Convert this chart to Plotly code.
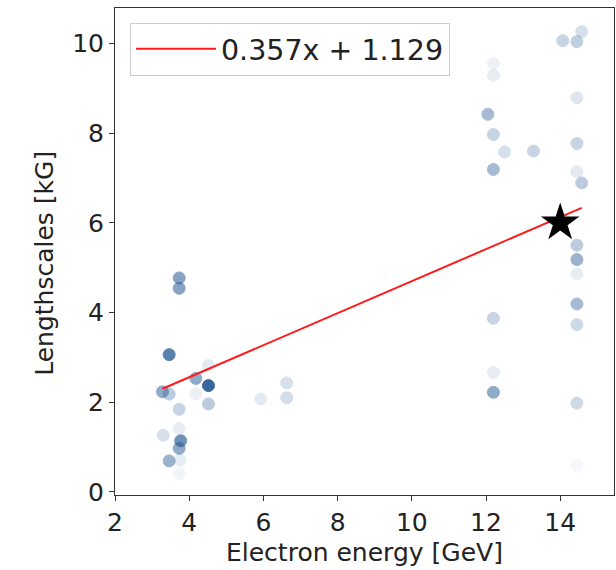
import plotly.graph_objects as go

# ---- data ----
energy = [3.73, 3.73, 3.46, 4.52, 4.18, 4.52, 3.28, 3.46, 4.18, 3.73, 4.52, 3.73,
          3.30, 3.77, 3.73, 3.46, 3.75, 3.73, 6.63, 6.63, 5.93,
          14.58, 14.07, 14.45, 12.20, 12.20, 14.45, 12.05, 12.20, 12.50, 13.28, 14.45,
          12.20, 14.45, 14.58, 14.45, 14.45, 14.45, 14.45, 14.45, 12.20, 12.20, 12.20,
          14.45, 14.45]
lengthscale = [4.77, 4.54, 3.06, 2.82, 2.53, 2.37, 2.23, 2.18, 2.19, 1.84, 1.96, 1.41,
               1.26, 1.14, 0.97, 0.69, 0.71, 0.41, 2.43, 2.10, 2.07,
               10.26, 10.06, 10.04, 9.55, 9.29, 8.79, 8.42, 7.97, 7.58, 7.60, 7.77,
               7.19, 7.14, 6.89, 5.50, 5.18, 4.86, 4.19, 3.73, 3.87, 2.66, 2.22,
               1.98, 0.60]
weight = [0.55, 0.55, 0.75, 0.12, 0.5, 0.9, 0.5, 0.3, 0.08, 0.25, 0.3, 0.1,
          0.18, 0.65, 0.5, 0.45, 0.1, 0.06, 0.18, 0.2, 0.12,
          0.18, 0.25, 0.28, 0.07, 0.1, 0.15, 0.4, 0.25, 0.18, 0.25, 0.25,
          0.4, 0.12, 0.3, 0.3, 0.45, 0.1, 0.4, 0.22, 0.25, 0.1, 0.5,
          0.22, 0.04]
fit_slope = 0.357
fit_intercept = 1.129
star_x = [14.0]
star_y = [6.0]
x_ticks = [2, 4, 6, 8, 10, 12, 14]
y_ticks = [0, 2, 4, 6, 8, 10]

FONT = "DejaVu Sans"
TXT = "#222222"
AX = "#333333"

fig = go.Figure()

fig.add_trace(go.Scatter(
    x=energy, y=lengthscale, mode="markers", showlegend=False,
    marker=dict(size=12, color="rgb(36,88,148)", opacity=weight,
                line=dict(width=1, color="rgb(36,88,148)")),
))

x_line = [min(energy), max(energy)]
y_line = [fit_slope * v + fit_intercept for v in x_line]
fig.add_trace(go.Scatter(
    x=x_line, y=y_line, mode="lines", name=f"{fit_slope}x + {fit_intercept}",
    line=dict(color="#ff1a1a", width=2),
))

fig.add_trace(go.Scatter(
    x=star_x, y=star_y, mode="markers", showlegend=False,
    marker=dict(symbol="star", size=29, color="black"),
))

fig.update_layout(
    width=616, height=570,
    margin=dict(l=115, r=2, t=8, b=75),
    plot_bgcolor="white", paper_bgcolor="white",
    font=dict(family=FONT, size=25, color=TXT),
    legend=dict(x=0.03, y=0.97, xanchor="left", yanchor="top",
                bgcolor="white", bordercolor="#cccccc", borderwidth=1,
                itemwidth=80,
                font=dict(size=28.5, family=FONT, color=TXT)),
    xaxis=dict(range=[2, 15.45], tickvals=x_ticks, ticks="outside", ticklen=5,
               tickcolor=AX, showline=True, linecolor=AX, linewidth=1, mirror=True,
               showgrid=False, zeroline=False),
    yaxis=dict(range=[-0.07, 10.79], tickvals=y_ticks, ticks="outside", ticklen=5,
               tickcolor=AX, showline=True, linecolor=AX, linewidth=1, mirror=True,
               showgrid=False, zeroline=False),
    annotations=[
        dict(text="Electron energy [GeV]", xref="paper", yref="paper",
             x=0.5, y=-0.118, xanchor="center", yanchor="middle", showarrow=False,
             font=dict(size=25, family=FONT, color=TXT)),
        dict(text="Lengthscales [kG]", xref="paper", yref="paper",
             x=-0.14, y=0.475, xanchor="center", yanchor="middle", showarrow=False,
             textangle=-90, font=dict(size=25, family=FONT, color=TXT)),
    ],
)

fig.write_html("out.html")
